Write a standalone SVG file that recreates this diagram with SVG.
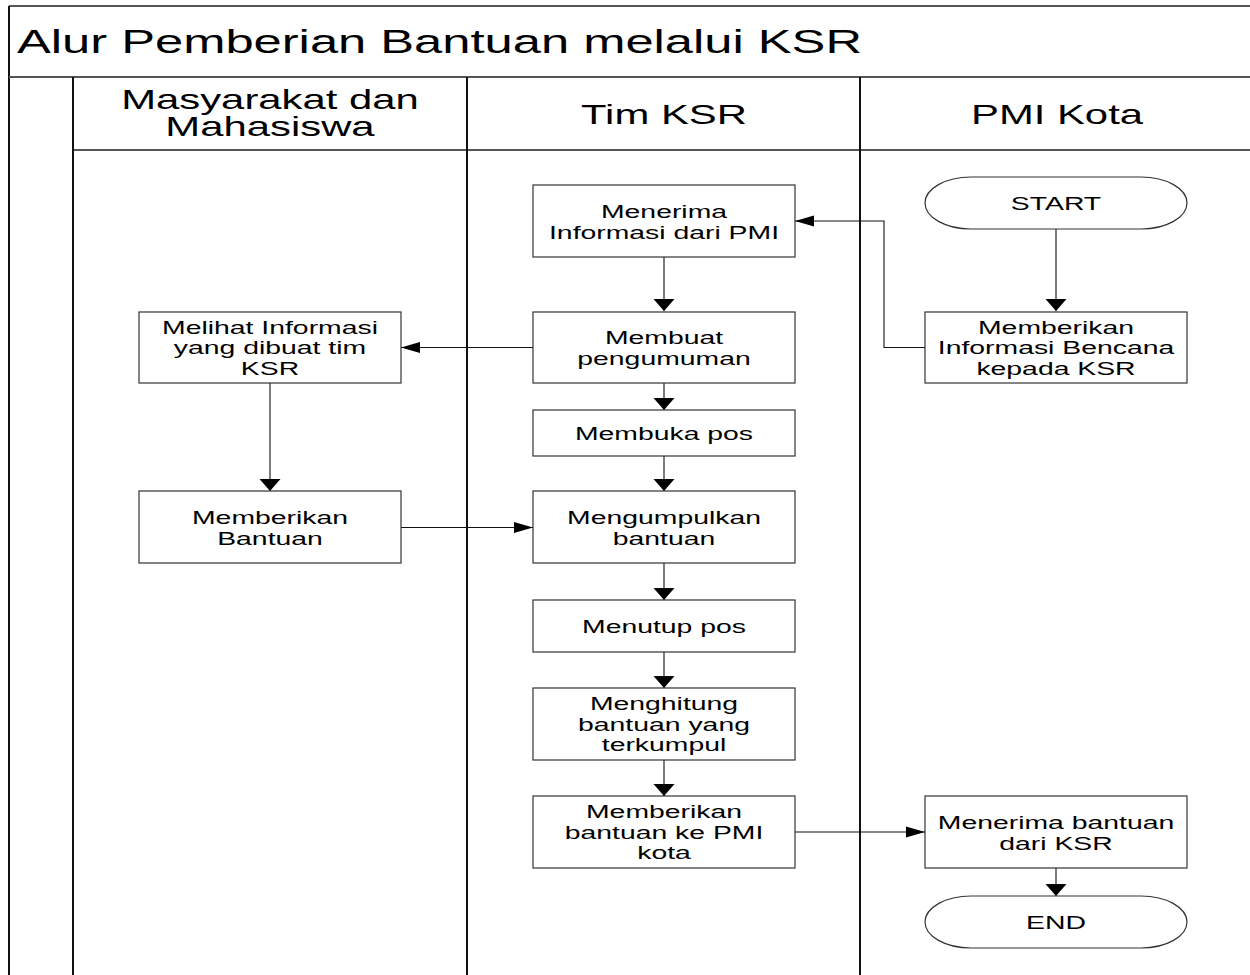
<svg xmlns="http://www.w3.org/2000/svg" width="1250" height="975" viewBox="0 0 1250 975">
<style>
  .bg{fill:#fff}
  .frame{stroke:#555;stroke-width:2;fill:none}
  .lane{stroke:#111;stroke-width:2;fill:none}
  .box{fill:#fff;stroke:#333;stroke-width:1.2}
  .conn{stroke:#111;stroke-width:1.1;fill:none}
  text{font-family:"Liberation Sans",Arial,sans-serif;fill:#000}
  .t{font-size:18.3px;text-anchor:middle}
  .h{font-size:27px;text-anchor:middle}
  .title{font-size:32.7px}
</style>
<defs>
  <marker id="ah" markerUnits="userSpaceOnUse" markerWidth="20" markerHeight="12" viewBox="0 0 20 12" refX="19" refY="6" orient="auto">
    <path d="M0,0.5 L19,6 L0,11.5 z" fill="#000"/>
  </marker>
  <marker id="av" markerUnits="userSpaceOnUse" markerWidth="14" markerHeight="22" viewBox="0 0 14 22" refX="12" refY="11" orient="auto">
    <path d="M0,0.5 L12,11 L0,21.5 z" fill="#000"/>
  </marker>
</defs>
<rect class="bg" x="0" y="0" width="1250" height="975"/>

<g id="pool">
  <line class="frame" x1="9" y1="6" x2="1250" y2="6"/>
  <line class="lane" x1="9" y1="6" x2="9" y2="975"/>
  <line class="frame" x1="9" y1="77" x2="1250" y2="77"/>
  <line class="frame" x1="73" y1="150" x2="1250" y2="150"/>
  <line class="lane" x1="73" y1="77" x2="73" y2="975"/>
  <line class="lane" x1="467" y1="77" x2="467" y2="975"/>
  <line class="lane" x1="860" y1="77" x2="860" y2="975"/>
  <text class="title" transform="translate(17,53) scale(1.55,1)">Alur Pemberian Bantuan melalui KSR</text>
</g>

<g id="lane-masyarakat">
  <text class="h" transform="translate(270,109) scale(1.55,1)">Masyarakat dan</text>
  <text class="h" transform="translate(270,136) scale(1.55,1)">Mahasiswa</text>
</g>
<g id="lane-timksr">
  <text class="h" transform="translate(664,124) scale(1.55,1)">Tim KSR</text>
</g>
<g id="lane-pmikota">
  <text class="h" transform="translate(1057,124) scale(1.55,1)">PMI Kota</text>
</g>

<g id="connectors">
  <path class="conn" d="M1056,229 V311" marker-end="url(#av)"/>
  <path class="conn" d="M925,347.5 H884 V221 H795" marker-end="url(#ah)"/>
  <path class="conn" d="M664,257 V311" marker-end="url(#av)"/>
  <path class="conn" d="M533,347.5 H401" marker-end="url(#ah)"/>
  <path class="conn" d="M664,383 V410" marker-end="url(#av)"/>
  <path class="conn" d="M270,383 V491" marker-end="url(#av)"/>
  <path class="conn" d="M664,456 V491" marker-end="url(#av)"/>
  <path class="conn" d="M401,527.5 H533" marker-end="url(#ah)"/>
  <path class="conn" d="M664,563 V600" marker-end="url(#av)"/>
  <path class="conn" d="M664,652 V688" marker-end="url(#av)"/>
  <path class="conn" d="M664,760 V796" marker-end="url(#av)"/>
  <path class="conn" d="M795,832 H925" marker-end="url(#ah)"/>
  <path class="conn" d="M1056,868 V896" marker-end="url(#av)"/>
</g>

<g id="start">
  <rect class="box" x="925" y="177" width="262" height="52" rx="46" ry="26"/>
  <text class="t" transform="translate(1056,209.5) scale(1.55,1)">START</text>
</g>
<g id="memberikan-informasi">
  <rect class="box" x="925" y="312" width="262" height="71"/>
  <text class="t" transform="translate(1056,333.5) scale(1.55,1)">Memberikan</text>
  <text class="t" transform="translate(1056,354) scale(1.55,1)">Informasi Bencana</text>
  <text class="t" transform="translate(1056,374.5) scale(1.55,1)">kepada KSR</text>
</g>
<g id="menerima-informasi">
  <rect class="box" x="533" y="185" width="262" height="72"/>
  <text class="t" transform="translate(664,217.5) scale(1.55,1)">Menerima</text>
  <text class="t" transform="translate(664,238.5) scale(1.55,1)">Informasi dari PMI</text>
</g>
<g id="membuat-pengumuman">
  <rect class="box" x="533" y="312" width="262" height="71"/>
  <text class="t" transform="translate(664,344) scale(1.55,1)">Membuat</text>
  <text class="t" transform="translate(664,365) scale(1.55,1)">pengumuman</text>
</g>
<g id="melihat-informasi">
  <rect class="box" x="139" y="312" width="262" height="71"/>
  <text class="t" transform="translate(270,333.5) scale(1.55,1)">Melihat Informasi</text>
  <text class="t" transform="translate(270,354) scale(1.55,1)">yang dibuat tim</text>
  <text class="t" transform="translate(270,374.5) scale(1.55,1)">KSR</text>
</g>
<g id="membuka-pos">
  <rect class="box" x="533" y="410" width="262" height="46"/>
  <text class="t" transform="translate(664,439.5) scale(1.55,1)">Membuka pos</text>
</g>
<g id="memberikan-bantuan">
  <rect class="box" x="139" y="491" width="262" height="72"/>
  <text class="t" transform="translate(270,523.5) scale(1.55,1)">Memberikan</text>
  <text class="t" transform="translate(270,544.5) scale(1.55,1)">Bantuan</text>
</g>
<g id="mengumpulkan-bantuan">
  <rect class="box" x="533" y="491" width="262" height="72"/>
  <text class="t" transform="translate(664,523.5) scale(1.55,1)">Mengumpulkan</text>
  <text class="t" transform="translate(664,544.5) scale(1.55,1)">bantuan</text>
</g>
<g id="menutup-pos">
  <rect class="box" x="533" y="600" width="262" height="52"/>
  <text class="t" transform="translate(664,632.5) scale(1.55,1)">Menutup pos</text>
</g>
<g id="menghitung-bantuan">
  <rect class="box" x="533" y="688" width="262" height="72"/>
  <text class="t" transform="translate(664,710) scale(1.55,1)">Menghitung</text>
  <text class="t" transform="translate(664,730.5) scale(1.55,1)">bantuan yang</text>
  <text class="t" transform="translate(664,751) scale(1.55,1)">terkumpul</text>
</g>
<g id="memberikan-ke-pmi">
  <rect class="box" x="533" y="796" width="262" height="72"/>
  <text class="t" transform="translate(664,818) scale(1.55,1)">Memberikan</text>
  <text class="t" transform="translate(664,838.5) scale(1.55,1)">bantuan ke PMI</text>
  <text class="t" transform="translate(664,859) scale(1.55,1)">kota</text>
</g>
<g id="menerima-bantuan">
  <rect class="box" x="925" y="796" width="262" height="72"/>
  <text class="t" transform="translate(1056,828.5) scale(1.55,1)">Menerima bantuan</text>
  <text class="t" transform="translate(1056,849.5) scale(1.55,1)">dari KSR</text>
</g>
<g id="end">
  <rect class="box" x="925" y="896" width="262" height="52" rx="46" ry="26"/>
  <text class="t" transform="translate(1056,928.5) scale(1.55,1)">END</text>
</g>
</svg>
